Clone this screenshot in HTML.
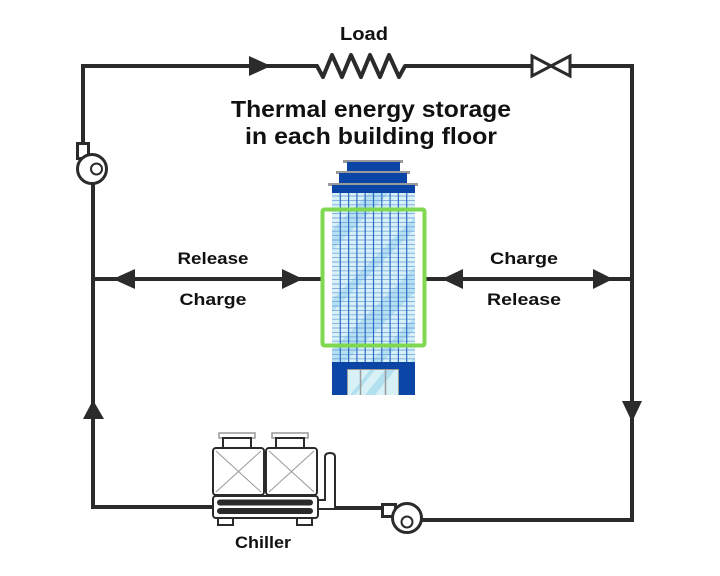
<!DOCTYPE html>
<html><head><meta charset="utf-8"><style>
html,body{margin:0;padding:0;background:#fff;}
svg{display:block;}
text{font-family:"Liberation Sans",sans-serif;font-weight:bold;fill:#111;}
</style></head><body>
<svg width="720" height="576" viewBox="0 0 720 576" xmlns="http://www.w3.org/2000/svg">
<defs>
<clipPath id="glass"><rect x="332" y="193" width="83" height="169"/></clipPath>
<clipPath id="door"><rect x="348" y="370" width="50" height="25"/></clipPath>
</defs>
<rect width="720" height="576" fill="#fff"/>

<!-- main loop lines -->
<g fill="none" stroke="#2b2b2b" stroke-width="4" stroke-linejoin="miter">
<path d="M83,157 V66 H318"/>
<path d="M411,66 H532"/>
<path d="M570,66 H632 V520 H422"/>
<path d="M93,184 V507 H214"/>
<path d="M334,508 H382"/>
<path d="M93,279 H321"/>
<path d="M426,279 H632"/>
<path d="M317,66 L323,77 L332,55 L342,77 L351,55 L361,77 L370,55 L380,77 L389,55 L399,77 L405,66 L411,66" stroke-linejoin="round" stroke-linecap="round"/>
</g>
<!-- valve -->
<path d="M532,56 L570,76 L570,56 L532,76 Z" fill="#fff" stroke="#2b2b2b" stroke-width="3" stroke-linejoin="miter"/>

<!-- arrowheads -->
<g fill="#2b2b2b">
<polygon points="249,56 249,76 271,66"/>
<polygon points="622,401 642,401 632,422"/>
<polygon points="83,419 104,419 93,400"/>
<polygon points="113,279 135,269 135,289"/>
<polygon points="303,279 282,269 282,289"/>
<polygon points="442,279 463,269 463,289"/>
<polygon points="613,279 593,269 593,289"/>
</g>

<!-- left pump -->
<g stroke="#2b2b2b" stroke-width="3" fill="#fff">
<rect x="77.5" y="143.5" width="11" height="15"/>
<circle cx="92" cy="169" r="14.5"/>
<circle cx="96.5" cy="169" r="5.5" stroke-width="2"/>
</g>
<!-- bottom pump -->
<g stroke="#2b2b2b" stroke-width="3" fill="#fff">
<rect x="382.5" y="504.5" width="13" height="12"/>
<circle cx="407" cy="518" r="14.5"/>
<circle cx="407" cy="522" r="5.5" stroke-width="2"/>
</g>

<!-- chiller -->
<g stroke="#2b2b2b" stroke-width="2" fill="#fff">
<path d="M318,500 H325 V457 Q325,453 330,453 Q335,453 335,457 V509 H318"/>
<rect x="219" y="433" width="36" height="5" fill="#fff" stroke="#999" stroke-width="1.5"/>
<rect x="223" y="438" width="28" height="10"/>
<rect x="272" y="433" width="36" height="5" fill="#fff" stroke="#999" stroke-width="1.5"/>
<rect x="276" y="438" width="28" height="10"/>
<rect x="213" y="448" width="51" height="47" rx="3"/>
<rect x="266" y="448" width="51" height="47" rx="3"/>
<rect x="218" y="517" width="15" height="8"/>
<rect x="297" y="517" width="15" height="8"/>
<rect x="213" y="496" width="105" height="22" rx="3"/>
</g>
<g stroke="#999" stroke-width="1">
<line x1="216" y1="451" x2="261" y2="492"/><line x1="261" y1="451" x2="216" y2="492"/>
<line x1="269" y1="451" x2="314" y2="492"/><line x1="314" y1="451" x2="269" y2="492"/>
</g>
<g fill="#2b2b2b">
<rect x="217" y="499.5" width="96" height="6" rx="3"/>
<rect x="217" y="508" width="96" height="6" rx="3"/>
</g>

<!-- building -->
<g>
<rect x="343" y="160" width="60" height="3" fill="#9a9a9a"/>
<rect x="347" y="162" width="53" height="9" fill="#0b46a6"/>
<rect x="336" y="171" width="74" height="3" fill="#9a9a9a"/>
<rect x="339" y="173" width="68" height="10" fill="#0b46a6"/>
<rect x="328" y="183" width="90" height="3" fill="#9a9a9a"/>
<rect x="332" y="185" width="83" height="8" fill="#0b46a6"/>
<g clip-path="url(#glass)">
<rect x="332" y="193" width="83" height="169" fill="#d8f1f8"/>
<g fill="#acdcf0" opacity="0.8">
<polygon points="332,230 332,250 415,167 415,147"/>
<polygon points="332,300 332,312 415,229 415,217"/>
<polygon points="332,350 332,375 415,292 415,267"/>
<polygon points="332,400 332,412 415,329 415,317"/>
<polygon points="332,440 332,460 415,377 415,357"/>
</g>
<g stroke="#6c9fdc" stroke-width="0.9" opacity="0.85">
<line x1="332" y1="196" x2="415" y2="196"/><line x1="332" y1="200.4" x2="415" y2="200.4"/><line x1="332" y1="204.8" x2="415" y2="204.8"/><line x1="332" y1="209.2" x2="415" y2="209.2"/><line x1="332" y1="213.6" x2="415" y2="213.6"/><line x1="332" y1="218" x2="415" y2="218"/><line x1="332" y1="222.4" x2="415" y2="222.4"/><line x1="332" y1="226.8" x2="415" y2="226.8"/><line x1="332" y1="231.2" x2="415" y2="231.2"/><line x1="332" y1="235.6" x2="415" y2="235.6"/><line x1="332" y1="240" x2="415" y2="240"/><line x1="332" y1="244.4" x2="415" y2="244.4"/><line x1="332" y1="248.8" x2="415" y2="248.8"/><line x1="332" y1="253.2" x2="415" y2="253.2"/><line x1="332" y1="257.6" x2="415" y2="257.6"/><line x1="332" y1="262" x2="415" y2="262"/><line x1="332" y1="266.4" x2="415" y2="266.4"/><line x1="332" y1="270.8" x2="415" y2="270.8"/><line x1="332" y1="275.2" x2="415" y2="275.2"/><line x1="332" y1="279.6" x2="415" y2="279.6"/><line x1="332" y1="284" x2="415" y2="284"/><line x1="332" y1="288.4" x2="415" y2="288.4"/><line x1="332" y1="292.8" x2="415" y2="292.8"/><line x1="332" y1="297.2" x2="415" y2="297.2"/><line x1="332" y1="301.6" x2="415" y2="301.6"/><line x1="332" y1="306" x2="415" y2="306"/><line x1="332" y1="310.4" x2="415" y2="310.4"/><line x1="332" y1="314.8" x2="415" y2="314.8"/><line x1="332" y1="319.2" x2="415" y2="319.2"/><line x1="332" y1="323.6" x2="415" y2="323.6"/><line x1="332" y1="328" x2="415" y2="328"/><line x1="332" y1="332.4" x2="415" y2="332.4"/><line x1="332" y1="336.8" x2="415" y2="336.8"/><line x1="332" y1="341.2" x2="415" y2="341.2"/><line x1="332" y1="345.6" x2="415" y2="345.6"/><line x1="332" y1="350" x2="415" y2="350"/><line x1="332" y1="354.4" x2="415" y2="354.4"/><line x1="332" y1="358.8" x2="415" y2="358.8"/>
</g>
<g stroke="#2f6bc4" stroke-width="1.2">
<line x1="340.3" y1="193" x2="340.3" y2="362"/><line x1="348.6" y1="193" x2="348.6" y2="362"/><line x1="356.9" y1="193" x2="356.9" y2="362"/><line x1="365.2" y1="193" x2="365.2" y2="362"/><line x1="373.5" y1="193" x2="373.5" y2="362"/><line x1="381.8" y1="193" x2="381.8" y2="362"/><line x1="390.1" y1="193" x2="390.1" y2="362"/><line x1="398.4" y1="193" x2="398.4" y2="362"/><line x1="406.7" y1="193" x2="406.7" y2="362"/>
</g>
</g>
<rect x="332" y="362" width="83" height="33" fill="#0b46a6"/>
<rect x="347" y="369" width="52" height="26" fill="#9a9a9a"/>
<g clip-path="url(#door)">
<rect x="348" y="370" width="50" height="25" fill="#d8f1f7"/>
<polygon points="365,395 375,395 395,370 385,370" fill="#b3e0ef"/>
<polygon points="350,395 355,395 375,370 370,370" fill="#b3e0ef"/>
</g>
<line x1="360.5" y1="370" x2="360.5" y2="395" stroke="#9a9a9a" stroke-width="1.5"/>
<line x1="385.5" y1="370" x2="385.5" y2="395" stroke="#9a9a9a" stroke-width="1.5"/>
</g>
<!-- green frame -->
<rect x="322.5" y="209.5" width="102" height="136" rx="2" fill="none" stroke="#7fd84f" stroke-width="4"/>

<!-- labels -->
<text x="364" y="40" font-size="18" text-anchor="middle" textLength="48" lengthAdjust="spacingAndGlyphs">Load</text>
<text x="371" y="117" font-size="23" text-anchor="middle" textLength="280" lengthAdjust="spacingAndGlyphs">Thermal energy storage</text>
<text x="371" y="144" font-size="23" text-anchor="middle" textLength="252" lengthAdjust="spacingAndGlyphs">in each building floor</text>
<text x="213" y="264" font-size="17" text-anchor="middle" textLength="71" lengthAdjust="spacingAndGlyphs">Release</text>
<text x="213" y="305" font-size="17" text-anchor="middle" textLength="67" lengthAdjust="spacingAndGlyphs">Charge</text>
<text x="524" y="264" font-size="17" text-anchor="middle" textLength="68" lengthAdjust="spacingAndGlyphs">Charge</text>
<text x="524" y="305" font-size="17" text-anchor="middle" textLength="74" lengthAdjust="spacingAndGlyphs">Release</text>
<text x="263" y="548" font-size="17" text-anchor="middle" textLength="56" lengthAdjust="spacingAndGlyphs">Chiller</text>
</svg>
</body></html>
